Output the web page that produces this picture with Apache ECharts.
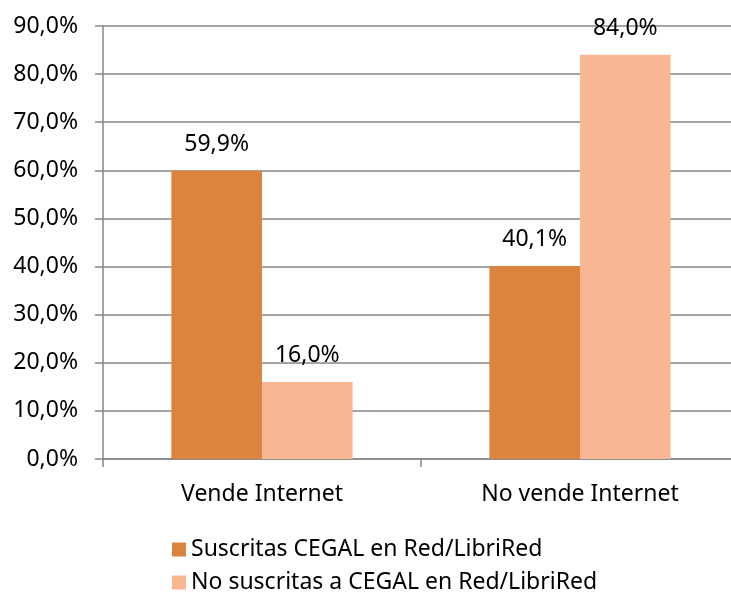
<!DOCTYPE html>
<html>
<head>
<meta charset="utf-8">
<script src="https://cdn.jsdelivr.net/npm/echarts@6/dist/echarts.min.js"></script>
<style>
  html, body { margin: 0; padding: 0; background: #fff; }
  #chart { width: 731px; height: 593px; }
</style>
</head>
<body>
<div id="chart"></div>
<script>
const categories = ["Vende Internet", "No vende Internet"]
const seriesNames = ["Suscritas CEGAL en Red/LibriRed", "No suscritas a CEGAL en Red/LibriRed"]
const suscritas = [59.9, 40.1]
const noSuscritas = [16.0, 84.0]
const colors = ["#DA843F", "#F8B692"]

const font = "Noto Sans"
const fmt = (v) => v.toFixed(1).replace(".", ",") + "%"

const chart = echarts.init(document.getElementById("chart"))
const barLabel = {
  show: true,
  position: "top",
  distance: 15,
  fontFamily: font,
  fontSize: 23,
  color: "#000",
  formatter: (p) => fmt(p.value),
}
// one legend per row, Excel stacks them under the plot
const legendRow = (name, top) => ({
  left: 172,
  top: top,
  padding: 0,
  itemWidth: 14,
  itemHeight: 14,
  icon: "rect",
  textStyle: { fontFamily: font, fontSize: 23, lineHeight: 20, color: "#000" },
  data: [name],
})
const option = {
  animation: false,
  textStyle: { fontFamily: font },
  grid: { left: 103, right: -8, top: 26, bottom: 134, outerBoundsMode: "none", containLabel: false },
  legend: [legendRow(seriesNames[0], 538), legendRow(seriesNames[1], 571)],
  xAxis: {
    type: "category",
    data: categories,
    axisLine: { lineStyle: { color: "#868686", width: 1.5 } },
    axisTick: { show: true, length: 8, lineStyle: { color: "#868686", width: 1.5 } },
    axisLabel: { fontFamily: font, fontSize: 23, color: "#000", margin: 24 },
  },
  yAxis: {
    type: "value",
    min: 0,
    max: 90,
    interval: 10,
    axisLine: { show: true, lineStyle: { color: "#868686", width: 1.5 } },
    axisTick: { show: true, length: 8, lineStyle: { color: "#868686", width: 1.5 } },
    axisLabel: { fontFamily: font, fontSize: 23, color: "#000", margin: 25, formatter: fmt },
    splitLine: { lineStyle: { color: "#868686", width: 1.5 } },
  },
  series: [
    {
      name: seriesNames[0],
      type: "bar",
      data: suscritas,
      barGap: "0%",
      barCategoryGap: "43%",
      itemStyle: { color: colors[0] },
      label: barLabel,
    },
    {
      name: seriesNames[1],
      type: "bar",
      data: noSuscritas,
      barGap: "0%",
      barCategoryGap: "43%",
      itemStyle: { color: colors[1] },
      label: barLabel,
    },
  ],
}
chart.setOption(option)
</script>
</body>
</html>
